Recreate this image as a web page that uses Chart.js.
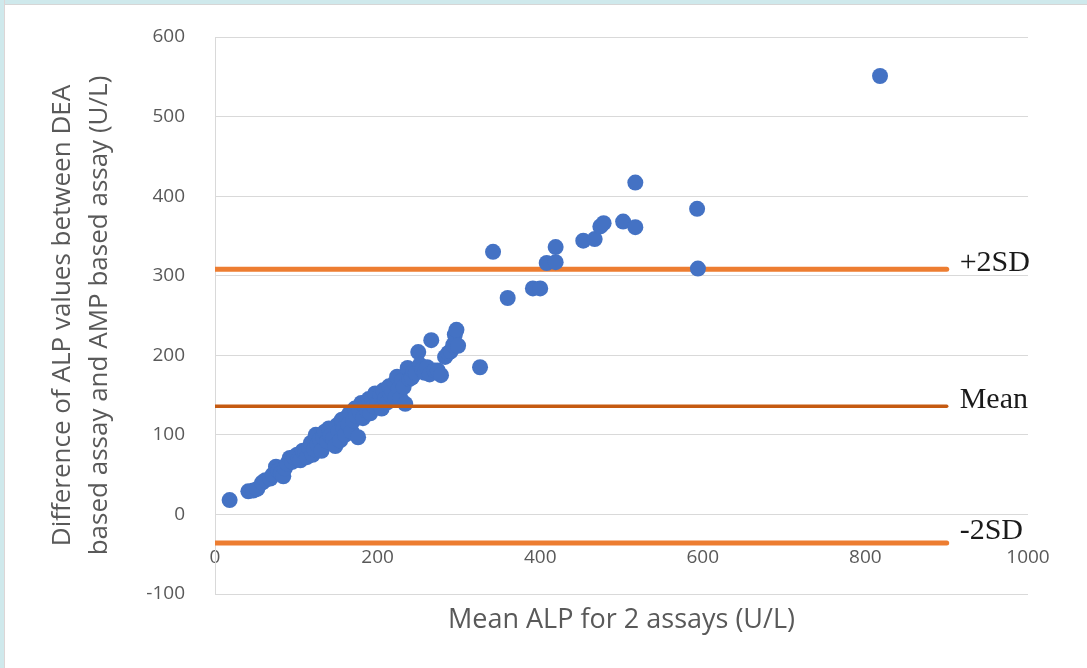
<!DOCTYPE html>
<html>
<head>
<meta charset="utf-8">
<script src="https://cdn.jsdelivr.net/npm/chart.js@4.4.1/dist/chart.umd.min.js"></script>
<style>
  html, body { margin: 0; padding: 0; background: #fff; }
  #wrap { position: absolute; left: 0; top: 0; width: 1087px; height: 668px; }
  .edge { position: absolute; background: #cfe9ec; z-index: 2; }
  #edgeTop { left: 0; top: 0; width: 1087px; height: 4px; border-bottom: 1px solid #d6d6d6; }
  #edgeLeft { left: 0; top: 0; width: 4px; height: 668px; border-right: 1px solid #dcd6d6; }
</style>
</head>
<body>
<div id="wrap"><canvas id="chart"></canvas></div>
<div class="edge" id="edgeTop"></div>
<div class="edge" id="edgeLeft"></div>
<script>
// Mean of the two assays (x) and their difference (y)
const meanALP = [18, 41, 47, 52, 58, 62, 68, 71, 75, 78, 81, 84, 86, 89, 92, 95, 97, 101, 103, 105,
  108, 111, 113, 116, 118, 120, 122, 124, 126, 129, 131, 133, 135, 138, 140, 142, 145, 148, 150, 152,
  154, 156, 158, 160, 162, 164, 166, 168, 170, 172, 174, 176, 178, 180, 182, 185, 187, 189, 191, 193,
  195, 197, 200, 203, 205, 207, 209, 212, 214, 216, 218, 221, 222, 224, 226, 228, 230, 232, 234, 237,
  239, 242, 244, 247, 250, 252, 255, 258, 261, 264, 266, 270, 274, 278, 283, 287, 290, 293, 295, 297,
  299, 326, 342, 360, 391, 400, 408, 419, 419, 453, 467, 474, 478, 502, 517, 517, 593, 594, 818];
const diffALP = [18, 29, 30, 32, 40, 43, 45, 50, 60, 55, 52, 48, 58, 64, 71, 66, 72, 75, 70, 68,
  80, 78, 72, 84, 90, 75, 82, 100, 88, 94, 80, 97, 104, 92, 108, 99, 95, 86, 112, 104,
  93, 119, 108, 100, 122, 113, 128, 104, 118, 133, 124, 97, 129, 140, 121, 137, 130, 145, 127, 144,
  136, 152, 140, 150, 133, 156, 145, 141, 161, 150, 155, 165, 147, 173, 158, 146, 168, 160, 139, 184,
  170, 172, 180, 178, 204, 188, 182, 178, 185, 176, 219, 181, 181, 175, 198, 203, 205, 213, 226, 232,
  212, 185, 330, 272, 284, 284, 316, 317, 336, 344, 346, 362, 366, 368, 361, 417, 384, 309, 551];

// limits of agreement
const refNames = ['+2SD', 'Mean', '-2SD'];
const refValues = [308, 136, -36];
const refSpan = [0, 900];

const xTicks = [0, 1000, 200];
const yTicks = [-100, 600, 100];

const points = meanALP.map((v, i) => ({ x: v, y: diffALP[i] }));
const refLine = v => refSpan.map(x => ({ x: x, y: v }));

const tickFont = { family: '"Open Sans", sans-serif', size: 19 };

const refLabelPlugin = {
  id: 'refLabels',
  afterDatasetsDraw(chart) {
    const { ctx, scales: { x, y } } = chart;
    const lift = [6, 6, 12];
    ctx.save();
    ctx.font = '30px "Liberation Serif", serif';
    ctx.fillStyle = '#1a1a1a';
    ctx.textBaseline = 'middle';
    refNames.forEach((name, i) => {
      ctx.fillText(name, x.getPixelForValue(refSpan[1]) + 13, y.getPixelForValue(refValues[i]) - lift[i]);
    });
    ctx.restore();
  }
};

new Chart(document.getElementById('chart'), {
  type: 'scatter',
  data: {
    datasets: [
      {
        label: 'Difference',
        data: points,
        backgroundColor: '#4472C4',
        borderWidth: 0,
        pointRadius: 8,
        order: 1
      },
      {
        type: 'line',
        label: refNames[0],
        data: refLine(refValues[0]),
        borderColor: '#ED7D31',
        borderWidth: 5,
        borderCapStyle: 'round',
        pointRadius: 0,
        order: 2
      },
      {
        type: 'line',
        label: refNames[1],
        data: refLine(refValues[1]),
        borderColor: '#C55A11',
        borderWidth: 3.5,
        borderCapStyle: 'round',
        pointRadius: 0,
        order: 0
      },
      {
        type: 'line',
        label: refNames[2],
        data: refLine(refValues[2]),
        borderColor: '#ED7D31',
        borderWidth: 5,
        borderCapStyle: 'round',
        pointRadius: 0,
        order: 2
      }
    ]
  },
  options: {
    responsive: true,
    maintainAspectRatio: false,
    animation: false,
    layout: { padding: { top: 37, right: 59, bottom: 31, left: 44.5 } },
    plugins: {
      legend: { display: false },
      tooltip: { enabled: false }
    },
    scales: {
      x: {
        type: 'linear',
        position: 'bottom',
        min: xTicks[0],
        max: xTicks[1],
        grid: { display: false },
        border: { display: false },
        ticks: { display: false, stepSize: xTicks[2] },
        title: {
          display: true,
          text: 'Mean ALP for 2 assays (U/L)',
          color: '#595959',
          font: { family: '"Open Sans", sans-serif', size: 27 },
          padding: 0
        },
        afterFit: s => { s.height = 43; }
      },
      x2: {
        type: 'linear',
        position: { y: 0 },
        min: xTicks[0],
        max: xTicks[1],
        grid: { display: false, drawTicks: false },
        border: { display: false },
        ticks: {
          stepSize: xTicks[2],
          color: '#595959',
          font: tickFont,
          padding: 32,
          callback: v => String(v)
        }
      },
      y: {
        type: 'linear',
        min: yTicks[0],
        max: yTicks[1],
        // transparent tick marks give the label gap without padding the chart top
        grid: { color: '#d9d9d9', lineWidth: 1, drawTicks: true, tickLength: 30, tickColor: 'transparent' },
        border: { display: true, color: '#d9d9d9' },
        ticks: { stepSize: yTicks[2], color: '#595959', font: tickFont, padding: 0 },
        title: {
          display: true,
          text: ['Difference of ALP values between DEA', 'based assay and AMP based assay (U/L)'],
          color: '#595959',
          font: { family: '"Open Sans", sans-serif', size: 26, lineHeight: 1.42 },
          padding: 0
        },
        afterFit: s => { s.width = 170.5; }
      }
    }
  },
  plugins: [refLabelPlugin]
});
</script>
</body>
</html>
